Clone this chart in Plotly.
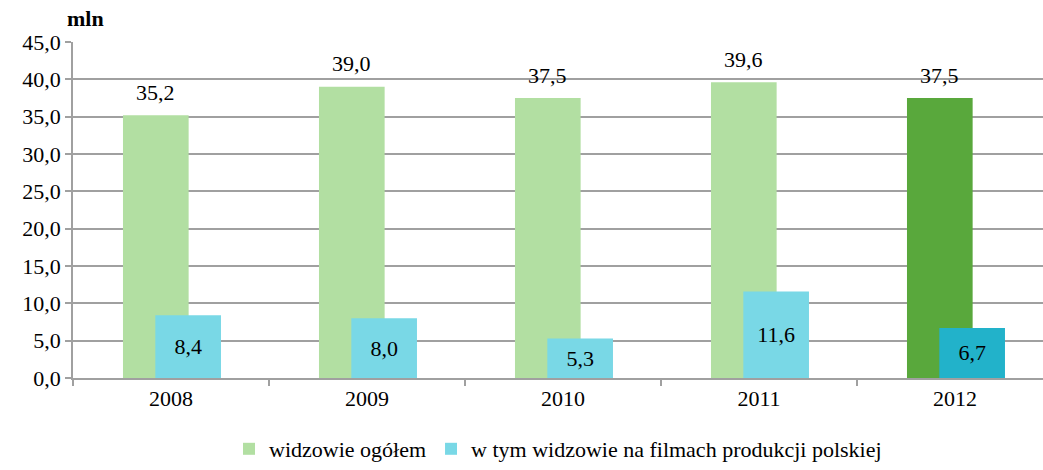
import plotly.graph_objects as go

# Cinema audiences (millions)
years = ["2008", "2009", "2010", "2011", "2012"]
total_viewers = [35.2, 39.0, 37.5, 39.6, 37.5]
polish_film_viewers = [8.4, 8.0, 5.3, 11.6, 6.7]
y_ticks = [0, 5, 10, 15, 20, 25, 30, 35, 40, 45]

series_names = ["widzowie ogółem", "w tym widzowie na filmach produkcji polskiej"]

green_light, green_dark = "#b2dfa2", "#59a83c"
blue_light, blue_dark = "#79d8e6", "#22b2ca"

font_family = "Times New Roman, Liberation Serif, serif"
fs = 22


def pl(v):
    """Format a number with one decimal and a decimal comma."""
    return f"{v:.1f}".replace(".", ",")


# bar geometry in category units (bars overlap partly)
g_off, g_w = -0.245, 0.335
b_off, b_w = -0.08, 0.335

fig = go.Figure()
fig.add_trace(go.Bar(
    x=years, y=total_viewers, name=series_names[0],
    offset=g_off, width=g_w,
    marker=dict(color=[green_light] * 4 + [green_dark], line=dict(width=0)),
))
fig.add_trace(go.Bar(
    x=years, y=polish_film_viewers, name=series_names[1],
    offset=b_off, width=b_w,
    text=[pl(v) for v in polish_film_viewers], texttemplate="%{text}",
    marker=dict(color=[blue_light] * 4 + [blue_dark], line=dict(width=0)),
    textposition="inside", insidetextanchor="middle", textangle=0,
    textfont=dict(family=font_family, size=fs, color="black"),
))

# value labels above the total bars
for i, v in enumerate(total_viewers):
    fig.add_annotation(
        x=i + g_off + g_w / 2, y=v, xref="x", yref="y",
        text=pl(v), showarrow=False,
        yanchor="middle", yshift=23,
        font=dict(family=font_family, size=fs, color="black"),
    )

# unit label above the value axis
fig.add_annotation(
    xref="paper", yref="paper", x=(85 - 73) / 970, y=1 + (42 - 18) / 339,
    xanchor="center", yanchor="middle",
    text="<b>mln</b>", showarrow=False,
    font=dict(family=font_family, size=fs, color="black"),
)

fig.update_layout(
    width=1043, height=470,
    margin=dict(l=73, r=0, t=42, b=89),
    barmode="overlay",
    plot_bgcolor="white", paper_bgcolor="white",
    font=dict(family=font_family, size=fs, color="black"),
    showlegend=True,
    legend=dict(
        orientation="h", x=0.5, xanchor="center", y=-0.15, yanchor="top",
        font=dict(family=font_family, size=fs, color="black"),
        itemwidth=30,
    ),
    xaxis=dict(
        type="category", range=[-0.5, 4.449],
        showgrid=False, showline=True, linecolor="#a0a0a0", linewidth=1.5,
        ticks="outside", tickson="boundaries", ticklen=6, tickcolor="#a0a0a0",
        tickwidth=1.5,
        tickfont=dict(family=font_family, size=fs, color="black"),
    ),
    yaxis=dict(
        range=[0, 45], tickvals=y_ticks, ticktext=[pl(t) for t in y_ticks],
        showgrid=True, gridcolor="#a0a0a0", gridwidth=1.5,
        showline=True, linecolor="#a0a0a0", linewidth=1.5,
        ticks="outside", ticklen=6, tickcolor="#a0a0a0", tickwidth=1.5,
        zeroline=False,
        tickfont=dict(family=font_family, size=fs, color="black"),
    ),
)

fig.write_html("out.html")
